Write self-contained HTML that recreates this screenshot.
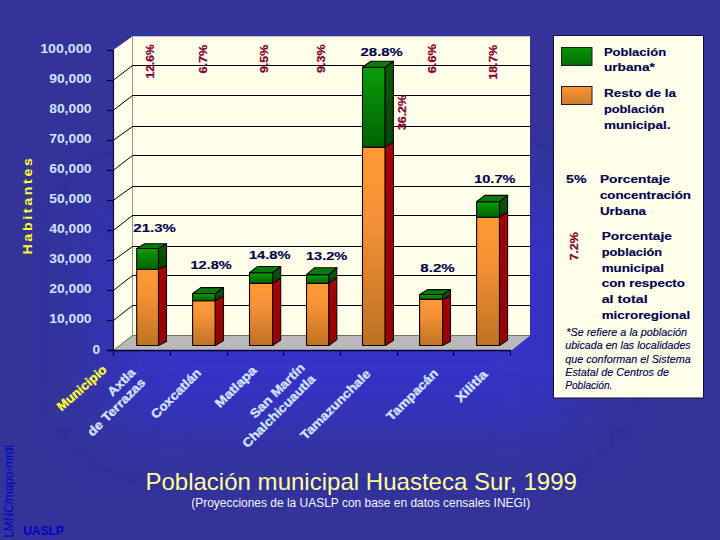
<!DOCTYPE html>
<html><head><meta charset="utf-8"><title>Población municipal Huasteca Sur, 1999</title>
<style>html,body{margin:0;padding:0;background:#333399;}body{width:720px;height:540px;overflow:hidden;font-family:"Liberation Sans", sans-serif;}</style>
</head><body>
<svg width="720" height="540" viewBox="0 0 720 540" style="display:block;font-family:'Liberation Sans',sans-serif">
<defs>
<linearGradient id="gO" x1="0" y1="0" x2="0" y2="1"><stop offset="0" stop-color="#ff9a34"/><stop offset="0.35" stop-color="#f59236"/><stop offset="1" stop-color="#bd7223"/></linearGradient>
<linearGradient id="gG" x1="0" y1="0" x2="0" y2="1"><stop offset="0" stop-color="#0a9c0a"/><stop offset="1" stop-color="#006400"/></linearGradient>
<linearGradient id="gGs" x1="0" y1="0" x2="0" y2="1"><stop offset="0" stop-color="#0b5a0b"/><stop offset="1" stop-color="#004600"/></linearGradient>
<linearGradient id="gR" x1="0" y1="0" x2="0" y2="1"><stop offset="0" stop-color="#a40408"/><stop offset="1" stop-color="#960000"/></linearGradient>
<linearGradient id="lgG" x1="0" y1="0" x2="0" y2="1"><stop offset="0" stop-color="#0a960a"/><stop offset="1" stop-color="#006a00"/></linearGradient>
<linearGradient id="lgO" x1="0" y1="0" x2="0" y2="1"><stop offset="0" stop-color="#ff9630"/><stop offset="1" stop-color="#cc7a2e"/></linearGradient>
<filter id="blur" filterUnits="userSpaceOnUse" x="-40" y="0" width="800" height="600"><feGaussianBlur stdDeviation="37 35"/></filter>
</defs>
<rect width="720" height="540" fill="#333399"/>
<rect x="105" y="198" width="472" height="227" fill="#3533c7" filter="url(#blur)"/>
<polygon points="113.5,50.0 132.5,36.5 530.0,36.5 530.0,335.5 511.0,350.5 113.5,350.5" fill="#dcdcd0"/>
<polygon points="113.5,50.0 132.5,36.5 132.5,335.5 113.5,350.5" fill="#ffffea"/>
<rect x="132.5" y="36.5" width="397.5" height="299.5" fill="#ffffea"/>
<polygon points="113.5,350.5 132.5,335.5 530.0,335.5 511.0,350.5" fill="#b9b9bc"/>
<line x1="132.5" y1="335.5" x2="530.0" y2="335.5" stroke="#74745e" stroke-width="1"/>
<line x1="132.5" y1="36.5" x2="132.5" y2="335.5" stroke="#96968a" stroke-width="1"/>
<line x1="113.5" y1="350.5" x2="132.5" y2="335.5" stroke="#5a5a4c" stroke-width="0.9"/>
<polyline points="113.5,320.4 132.5,305.5 530.0,305.5" fill="none" stroke="#000" stroke-width="1"/>
<polyline points="113.5,290.4 132.5,275.5 530.0,275.5" fill="none" stroke="#000" stroke-width="1"/>
<polyline points="113.5,260.4 132.5,246.5 530.0,246.5" fill="none" stroke="#000" stroke-width="1"/>
<polyline points="113.5,230.3 132.5,215.5 530.0,215.5" fill="none" stroke="#000" stroke-width="1"/>
<polyline points="113.5,200.2 132.5,186.5 530.0,186.5" fill="none" stroke="#000" stroke-width="1"/>
<polyline points="113.5,170.2 132.5,155.5 530.0,155.5" fill="none" stroke="#000" stroke-width="1"/>
<polyline points="113.5,140.2 132.5,126.5 530.0,126.5" fill="none" stroke="#000" stroke-width="1"/>
<polyline points="113.5,110.1 132.5,95.5 530.0,95.5" fill="none" stroke="#000" stroke-width="1"/>
<polyline points="113.5,80.1 132.5,65.5 530.0,65.5" fill="none" stroke="#000" stroke-width="1"/>
<line x1="113.5" y1="50.0" x2="113.5" y2="350.5" stroke="#0c0c48" stroke-width="1.2"/>
<line x1="107" y1="350.5" x2="113.5" y2="350.5" stroke="#00003a" stroke-width="1.2"/>
<line x1="107" y1="320.5" x2="113.5" y2="320.5" stroke="#00003a" stroke-width="1.2"/>
<line x1="107" y1="290.5" x2="113.5" y2="290.5" stroke="#00003a" stroke-width="1.2"/>
<line x1="107" y1="260.5" x2="113.5" y2="260.5" stroke="#00003a" stroke-width="1.2"/>
<line x1="107" y1="230.5" x2="113.5" y2="230.5" stroke="#00003a" stroke-width="1.2"/>
<line x1="107" y1="200.5" x2="113.5" y2="200.5" stroke="#00003a" stroke-width="1.2"/>
<line x1="107" y1="170.5" x2="113.5" y2="170.5" stroke="#00003a" stroke-width="1.2"/>
<line x1="107" y1="140.5" x2="113.5" y2="140.5" stroke="#00003a" stroke-width="1.2"/>
<line x1="107" y1="110.5" x2="113.5" y2="110.5" stroke="#00003a" stroke-width="1.2"/>
<line x1="107" y1="80.5" x2="113.5" y2="80.5" stroke="#00003a" stroke-width="1.2"/>
<line x1="107" y1="50.5" x2="113.5" y2="50.5" stroke="#00003a" stroke-width="1.2"/>
<line x1="107" y1="350.5" x2="511.0" y2="350.5" stroke="#00003a" stroke-width="1.4"/>
<line x1="113.5" y1="350.5" x2="113.5" y2="355.5" stroke="#00003a" stroke-width="1.2"/>
<line x1="170.5" y1="350.5" x2="170.5" y2="355.5" stroke="#00003a" stroke-width="1.2"/>
<line x1="227.5" y1="350.5" x2="227.5" y2="355.5" stroke="#00003a" stroke-width="1.2"/>
<line x1="283.5" y1="350.5" x2="283.5" y2="355.5" stroke="#00003a" stroke-width="1.2"/>
<line x1="340.5" y1="350.5" x2="340.5" y2="355.5" stroke="#00003a" stroke-width="1.2"/>
<line x1="397.5" y1="350.5" x2="397.5" y2="355.5" stroke="#00003a" stroke-width="1.2"/>
<line x1="453.5" y1="350.5" x2="453.5" y2="355.5" stroke="#00003a" stroke-width="1.2"/>
<line x1="510.5" y1="350.5" x2="510.5" y2="355.5" stroke="#00003a" stroke-width="1.2"/>
<rect x="136.7" y="269.2" width="21.8" height="76.3" fill="url(#gO)" stroke="#140000" stroke-width="1.1" stroke-linejoin="round"/>
<polygon points="158.5,269.2 166.5,265.2 166.5,341.5 158.5,345.5" fill="url(#gR)" stroke="#140000" stroke-width="1.1" stroke-linejoin="round"/>
<rect x="136.7" y="248.5" width="21.8" height="20.7" fill="url(#gG)" stroke="#140000" stroke-width="1.1" stroke-linejoin="round"/>
<polygon points="158.5,248.5 166.5,243.8 166.5,265.2 158.5,269.2" fill="url(#gGs)" stroke="#140000" stroke-width="1.1" stroke-linejoin="round"/>
<polygon points="136.7,248.5 144.7,243.8 166.5,243.8 158.5,248.5" fill="#0a7a0a" stroke="#140000" stroke-width="1.1" stroke-linejoin="round"/>
<rect x="192.6" y="300.7" width="22.7" height="44.8" fill="url(#gO)" stroke="#140000" stroke-width="1.1" stroke-linejoin="round"/>
<polygon points="215.3,300.7 223.5,295.7 223.5,340.5 215.3,345.5" fill="url(#gR)" stroke="#140000" stroke-width="1.1" stroke-linejoin="round"/>
<rect x="192.6" y="293.5" width="22.7" height="7.2" fill="url(#gG)" stroke="#140000" stroke-width="1.1" stroke-linejoin="round"/>
<polygon points="215.3,293.5 223.5,287.6 223.5,295.7 215.3,300.7" fill="url(#gGs)" stroke="#140000" stroke-width="1.1" stroke-linejoin="round"/>
<polygon points="192.6,293.5 200.8,287.6 223.5,287.6 215.3,293.5" fill="#0a7a0a" stroke="#140000" stroke-width="1.1" stroke-linejoin="round"/>
<rect x="249.5" y="283.4" width="23.1" height="62.1" fill="url(#gO)" stroke="#140000" stroke-width="1.1" stroke-linejoin="round"/>
<polygon points="272.6,283.4 280.7,278.0 280.7,340.1 272.6,345.5" fill="url(#gR)" stroke="#140000" stroke-width="1.1" stroke-linejoin="round"/>
<rect x="249.5" y="272.8" width="23.1" height="10.6" fill="url(#gG)" stroke="#140000" stroke-width="1.1" stroke-linejoin="round"/>
<polygon points="272.6,272.8 280.7,266.5 280.7,278.0 272.6,283.4" fill="url(#gGs)" stroke="#140000" stroke-width="1.1" stroke-linejoin="round"/>
<polygon points="249.5,272.8 257.6,266.5 280.7,266.5 272.6,272.8" fill="#0a7a0a" stroke="#140000" stroke-width="1.1" stroke-linejoin="round"/>
<rect x="306.5" y="283.4" width="22.3" height="62.1" fill="url(#gO)" stroke="#140000" stroke-width="1.1" stroke-linejoin="round"/>
<polygon points="328.8,283.4 336.8,277.5 336.8,339.6 328.8,345.5" fill="url(#gR)" stroke="#140000" stroke-width="1.1" stroke-linejoin="round"/>
<rect x="306.5" y="274.6" width="22.3" height="8.8" fill="url(#gG)" stroke="#140000" stroke-width="1.1" stroke-linejoin="round"/>
<polygon points="328.8,274.6 336.8,267.7 336.8,277.5 328.8,283.4" fill="url(#gGs)" stroke="#140000" stroke-width="1.1" stroke-linejoin="round"/>
<polygon points="306.5,274.6 314.5,267.7 336.8,267.7 328.8,274.6" fill="#0a7a0a" stroke="#140000" stroke-width="1.1" stroke-linejoin="round"/>
<rect x="362.5" y="147.1" width="22.7" height="198.4" fill="url(#gO)" stroke="#140000" stroke-width="1.1" stroke-linejoin="round"/>
<polygon points="385.2,147.1 393.4,142.1 393.4,340.5 385.2,345.5" fill="url(#gR)" stroke="#140000" stroke-width="1.1" stroke-linejoin="round"/>
<rect x="362.5" y="67.2" width="22.7" height="79.9" fill="url(#gG)" stroke="#140000" stroke-width="1.1" stroke-linejoin="round"/>
<polygon points="385.2,67.2 393.4,61.3 393.4,142.1 385.2,147.1" fill="url(#gGs)" stroke="#140000" stroke-width="1.1" stroke-linejoin="round"/>
<polygon points="362.5,67.2 370.7,61.3 393.4,61.3 385.2,67.2" fill="#0a7a0a" stroke="#140000" stroke-width="1.1" stroke-linejoin="round"/>
<rect x="419.6" y="299.4" width="23.0" height="46.1" fill="url(#gO)" stroke="#140000" stroke-width="1.1" stroke-linejoin="round"/>
<polygon points="442.6,299.4 450.5,295.2 450.5,341.3 442.6,345.5" fill="url(#gR)" stroke="#140000" stroke-width="1.1" stroke-linejoin="round"/>
<rect x="419.6" y="294.5" width="23.0" height="4.9" fill="url(#gG)" stroke="#140000" stroke-width="1.1" stroke-linejoin="round"/>
<polygon points="442.6,294.5 450.5,289.6 450.5,295.2 442.6,299.4" fill="url(#gGs)" stroke="#140000" stroke-width="1.1" stroke-linejoin="round"/>
<polygon points="419.6,294.5 427.5,289.6 450.5,289.6 442.6,294.5" fill="#0a7a0a" stroke="#140000" stroke-width="1.1" stroke-linejoin="round"/>
<rect x="476.6" y="217.2" width="22.9" height="128.3" fill="url(#gO)" stroke="#140000" stroke-width="1.1" stroke-linejoin="round"/>
<polygon points="499.5,217.2 507.6,211.8 507.6,340.1 499.5,345.5" fill="url(#gR)" stroke="#140000" stroke-width="1.1" stroke-linejoin="round"/>
<rect x="476.6" y="201.7" width="22.9" height="15.5" fill="url(#gG)" stroke="#140000" stroke-width="1.1" stroke-linejoin="round"/>
<polygon points="499.5,201.7 507.6,195.4 507.6,211.8 499.5,217.2" fill="url(#gGs)" stroke="#140000" stroke-width="1.1" stroke-linejoin="round"/>
<polygon points="476.6,201.7 484.7,195.4 507.6,195.4 499.5,201.7" fill="#0a7a0a" stroke="#140000" stroke-width="1.1" stroke-linejoin="round"/>
<text x="92.6" y="354.0" font-size="12.2" font-weight="bold" fill="#cfe3ff" textLength="7.6" lengthAdjust="spacingAndGlyphs">0</text>
<text x="49.2" y="323.4" font-size="12.2" font-weight="bold" fill="#cfe3ff" textLength="42.4" lengthAdjust="spacingAndGlyphs">10,000</text>
<text x="49.2" y="293.4" font-size="12.2" font-weight="bold" fill="#cfe3ff" textLength="42.4" lengthAdjust="spacingAndGlyphs">20,000</text>
<text x="49.2" y="263.4" font-size="12.2" font-weight="bold" fill="#cfe3ff" textLength="42.4" lengthAdjust="spacingAndGlyphs">30,000</text>
<text x="49.2" y="233.3" font-size="12.2" font-weight="bold" fill="#cfe3ff" textLength="42.4" lengthAdjust="spacingAndGlyphs">40,000</text>
<text x="49.2" y="203.2" font-size="12.2" font-weight="bold" fill="#cfe3ff" textLength="42.4" lengthAdjust="spacingAndGlyphs">50,000</text>
<text x="49.2" y="173.2" font-size="12.2" font-weight="bold" fill="#cfe3ff" textLength="42.4" lengthAdjust="spacingAndGlyphs">60,000</text>
<text x="49.2" y="143.2" font-size="12.2" font-weight="bold" fill="#cfe3ff" textLength="42.4" lengthAdjust="spacingAndGlyphs">70,000</text>
<text x="49.2" y="113.1" font-size="12.2" font-weight="bold" fill="#cfe3ff" textLength="42.4" lengthAdjust="spacingAndGlyphs">80,000</text>
<text x="49.2" y="83.1" font-size="12.2" font-weight="bold" fill="#cfe3ff" textLength="42.4" lengthAdjust="spacingAndGlyphs">90,000</text>
<text x="40.2" y="53.0" font-size="12.2" font-weight="bold" fill="#cfe3ff" textLength="51.4" lengthAdjust="spacingAndGlyphs">100,000</text>
<text x="32.4" y="254.5" font-size="13" font-weight="bold" fill="#ffff33" textLength="99" lengthAdjust="spacingAndGlyphs" transform="rotate(-90 32.4 254.5)" style="letter-spacing:2.5px">Habitantes</text>
<text x="133.3" y="232.2" font-size="11.8" font-weight="bold" fill="#00004e" textLength="42.5" lengthAdjust="spacingAndGlyphs" style="stroke:#00004e;stroke-width:0.15px">21.3%</text>
<text x="190.5" y="268.8" font-size="11.8" font-weight="bold" fill="#00004e" textLength="41.2" lengthAdjust="spacingAndGlyphs" style="stroke:#00004e;stroke-width:0.15px">12.8%</text>
<text x="248.9" y="259.3" font-size="11.8" font-weight="bold" fill="#00004e" textLength="41.6" lengthAdjust="spacingAndGlyphs" style="stroke:#00004e;stroke-width:0.15px">14.8%</text>
<text x="305.9" y="260.1" font-size="11.8" font-weight="bold" fill="#00004e" textLength="41.5" lengthAdjust="spacingAndGlyphs" style="stroke:#00004e;stroke-width:0.15px">13.2%</text>
<text x="360.59999999999997" y="55.5" font-size="11.8" font-weight="bold" fill="#00004e" textLength="42.2" lengthAdjust="spacingAndGlyphs" style="stroke:#00004e;stroke-width:0.15px">28.8%</text>
<text x="420.29999999999995" y="271.9" font-size="11.8" font-weight="bold" fill="#00004e" textLength="34.400000000000006" lengthAdjust="spacingAndGlyphs" style="stroke:#00004e;stroke-width:0.15px">8.2%</text>
<text x="474.2" y="183.2" font-size="11.8" font-weight="bold" fill="#00004e" textLength="41.2" lengthAdjust="spacingAndGlyphs" style="stroke:#00004e;stroke-width:0.15px">10.7%</text>
<rect x="553.5" y="35.5" width="150" height="362.5" fill="#ffffea" stroke="#10103a" stroke-width="1"/>
<rect x="561.5" y="47.5" width="30.5" height="18" fill="url(#lgG)" stroke="#202020" stroke-width="1"/>
<rect x="561.5" y="86.5" width="30.5" height="18" fill="url(#lgO)" stroke="#202020" stroke-width="1"/>
<text x="153.8" y="78.5" font-size="10" font-weight="bold" fill="#850030" textLength="34.1" lengthAdjust="spacingAndGlyphs" transform="rotate(-90 153.8 78.5)" style="stroke:#850030;stroke-width:0.25px">12.6%</text>
<text x="207.0" y="73.6" font-size="10" font-weight="bold" fill="#850030" textLength="28.9" lengthAdjust="spacingAndGlyphs" transform="rotate(-90 207.0 73.6)" style="stroke:#850030;stroke-width:0.25px">6.7%</text>
<text x="268.3" y="73.1" font-size="10" font-weight="bold" fill="#850030" textLength="28.4" lengthAdjust="spacingAndGlyphs" transform="rotate(-90 268.3 73.1)" style="stroke:#850030;stroke-width:0.25px">9.5%</text>
<text x="324.6" y="72.89999999999999" font-size="10" font-weight="bold" fill="#850030" textLength="28.7" lengthAdjust="spacingAndGlyphs" transform="rotate(-90 324.6 72.89999999999999)" style="stroke:#850030;stroke-width:0.25px">9.3%</text>
<text x="435.8" y="73.19999999999999" font-size="10" font-weight="bold" fill="#850030" textLength="29.0" lengthAdjust="spacingAndGlyphs" transform="rotate(-90 435.8 73.19999999999999)" style="stroke:#850030;stroke-width:0.25px">6.6%</text>
<text x="496.6" y="79.39999999999999" font-size="10" font-weight="bold" fill="#850030" textLength="34.4" lengthAdjust="spacingAndGlyphs" transform="rotate(-90 496.6 79.39999999999999)" style="stroke:#850030;stroke-width:0.25px">18.7%</text>
<text x="405.6" y="130.1" font-size="10" font-weight="bold" fill="#850030" textLength="35.1" lengthAdjust="spacingAndGlyphs" transform="rotate(-90 405.6 130.1)" style="stroke:#850030;stroke-width:0.25px">36.2%</text>
<text x="578.3" y="260.6" font-size="10" font-weight="bold" fill="#850030" textLength="28.5" lengthAdjust="spacingAndGlyphs" transform="rotate(-90 578.3 260.6)" style="stroke:#850030;stroke-width:0.25px">7.2%</text>
<text x="603.9" y="55.5" font-size="11.8" font-weight="bold" fill="#00004e" textLength="62.2" lengthAdjust="spacingAndGlyphs" style="stroke:#00004e;stroke-width:0.15px">Población</text>
<text x="603.9" y="71.1" font-size="11.8" font-weight="bold" fill="#00004e" textLength="51" lengthAdjust="spacingAndGlyphs" style="stroke:#00004e;stroke-width:0.15px">urbana*</text>
<text x="603.9" y="97.1" font-size="11.8" font-weight="bold" fill="#00004e" textLength="72.2" lengthAdjust="spacingAndGlyphs" style="stroke:#00004e;stroke-width:0.15px">Resto de la</text>
<text x="603.9" y="112.8" font-size="11.8" font-weight="bold" fill="#00004e" textLength="60.5" lengthAdjust="spacingAndGlyphs" style="stroke:#00004e;stroke-width:0.15px">población</text>
<text x="603.9" y="128.8" font-size="11.8" font-weight="bold" fill="#00004e" textLength="66.7" lengthAdjust="spacingAndGlyphs" style="stroke:#00004e;stroke-width:0.15px">municipal.</text>
<text x="566.1" y="183.4" font-size="11.8" font-weight="bold" fill="#00004e" textLength="20.5" lengthAdjust="spacingAndGlyphs" style="stroke:#00004e;stroke-width:0.15px">5%</text>
<text x="599.9" y="183.4" font-size="11.8" font-weight="bold" fill="#00004e" textLength="70.2" lengthAdjust="spacingAndGlyphs" style="stroke:#00004e;stroke-width:0.15px">Porcentaje</text>
<text x="599.9" y="199.4" font-size="11.8" font-weight="bold" fill="#00004e" textLength="91.1" lengthAdjust="spacingAndGlyphs" style="stroke:#00004e;stroke-width:0.15px">concentración</text>
<text x="599.9" y="214.9" font-size="11.8" font-weight="bold" fill="#00004e" textLength="46.2" lengthAdjust="spacingAndGlyphs" style="stroke:#00004e;stroke-width:0.15px">Urbana</text>
<text x="601.7" y="240.1" font-size="11.8" font-weight="bold" fill="#00004e" textLength="70.2" lengthAdjust="spacingAndGlyphs" style="stroke:#00004e;stroke-width:0.15px">Porcentaje</text>
<text x="601.7" y="256.1" font-size="11.8" font-weight="bold" fill="#00004e" textLength="60.5" lengthAdjust="spacingAndGlyphs" style="stroke:#00004e;stroke-width:0.15px">población</text>
<text x="601.7" y="272.1" font-size="11.8" font-weight="bold" fill="#00004e" textLength="62.3" lengthAdjust="spacingAndGlyphs" style="stroke:#00004e;stroke-width:0.15px">municipal</text>
<text x="601.7" y="287.3" font-size="11.8" font-weight="bold" fill="#00004e" textLength="83.3" lengthAdjust="spacingAndGlyphs" style="stroke:#00004e;stroke-width:0.15px">con respecto</text>
<text x="601.7" y="303.1" font-size="11.8" font-weight="bold" fill="#00004e" textLength="46" lengthAdjust="spacingAndGlyphs" style="stroke:#00004e;stroke-width:0.15px">al total</text>
<text x="601.7" y="319.0" font-size="11.8" font-weight="bold" fill="#00004e" textLength="88.5" lengthAdjust="spacingAndGlyphs" style="stroke:#00004e;stroke-width:0.15px">microregional</text>
<text x="566.3" y="335.7" font-size="10" font-weight="normal" fill="#00004e" textLength="120.8" lengthAdjust="spacingAndGlyphs" style="font-style:italic;stroke:#00004e;stroke-width:0.12px">*Se refiere a la población</text>
<text x="565.2" y="349.40000000000003" font-size="10" font-weight="normal" fill="#00004e" textLength="125.5" lengthAdjust="spacingAndGlyphs" style="font-style:italic;stroke:#00004e;stroke-width:0.12px">ubicada en las localidades</text>
<text x="565.2" y="362.90000000000003" font-size="10" font-weight="normal" fill="#00004e" textLength="125.5" lengthAdjust="spacingAndGlyphs" style="font-style:italic;stroke:#00004e;stroke-width:0.12px">que conforman el Sistema</text>
<text x="565.2" y="375.7" font-size="10" font-weight="normal" fill="#00004e" textLength="103.8" lengthAdjust="spacingAndGlyphs" style="font-style:italic;stroke:#00004e;stroke-width:0.12px">Estatal de Centros de</text>
<text x="565.2" y="388.6" font-size="10" font-weight="normal" fill="#00004e" textLength="47.2" lengthAdjust="spacingAndGlyphs" style="font-style:italic;stroke:#00004e;stroke-width:0.12px">Población.</text>
<text x="61.6" y="411.6" font-size="12.5" font-weight="bold" fill="#ffff33" textLength="61.5" lengthAdjust="spacingAndGlyphs" transform="rotate(-41.5 61.6 411.6)" style="stroke:#ffff33;stroke-width:0.35px">Municipio</text>
<text x="112.5" y="397" font-size="12.5" font-weight="bold" fill="#cfe3ff" textLength="33.5" lengthAdjust="spacingAndGlyphs" transform="rotate(-45 112.5 397)" style="stroke:#cfe3ff;stroke-width:0.35px">Axtla</text>
<text x="92.5" y="437" font-size="12.5" font-weight="bold" fill="#cfe3ff" textLength="76" lengthAdjust="spacingAndGlyphs" transform="rotate(-45 92.5 437)" style="stroke:#cfe3ff;stroke-width:0.35px">de Terrazas</text>
<text x="156" y="419.5" font-size="12.5" font-weight="bold" fill="#cfe3ff" textLength="65" lengthAdjust="spacingAndGlyphs" transform="rotate(-45 156 419.5)" style="stroke:#cfe3ff;stroke-width:0.35px">Coxcatlán</text>
<text x="220" y="408.5" font-size="12.5" font-weight="bold" fill="#cfe3ff" textLength="53" lengthAdjust="spacingAndGlyphs" transform="rotate(-45 220 408.5)" style="stroke:#cfe3ff;stroke-width:0.35px">Matlapa</text>
<text x="255" y="419" font-size="12.5" font-weight="bold" fill="#cfe3ff" textLength="71.5" lengthAdjust="spacingAndGlyphs" transform="rotate(-45 255 419)" style="stroke:#cfe3ff;stroke-width:0.35px">San Martín</text>
<text x="247.5" y="448.5" font-size="12.5" font-weight="bold" fill="#cfe3ff" textLength="97" lengthAdjust="spacingAndGlyphs" transform="rotate(-45 247.5 448.5)" style="stroke:#cfe3ff;stroke-width:0.35px">Chalchicuautla</text>
<text x="305.5" y="440.5" font-size="12.5" font-weight="bold" fill="#cfe3ff" textLength="93" lengthAdjust="spacingAndGlyphs" transform="rotate(-45 305.5 440.5)" style="stroke:#cfe3ff;stroke-width:0.35px">Tamazunchale</text>
<text x="391.5" y="421.5" font-size="12.5" font-weight="bold" fill="#cfe3ff" textLength="67" lengthAdjust="spacingAndGlyphs" transform="rotate(-45 391.5 421.5)" style="stroke:#cfe3ff;stroke-width:0.35px">Tampacán</text>
<text x="460.5" y="403" font-size="12.5" font-weight="bold" fill="#cfe3ff" textLength="39.5" lengthAdjust="spacingAndGlyphs" transform="rotate(-45 460.5 403)" style="stroke:#cfe3ff;stroke-width:0.35px">Xilitla</text>
<text x="145.4" y="489.6" font-size="23.4" font-weight="normal" fill="#ffff99" textLength="431.5" lengthAdjust="spacingAndGlyphs">Población municipal Huasteca Sur, 1999</text>
<text x="191.2" y="507.2" font-size="12" font-weight="normal" fill="#f4f4ff" textLength="339" lengthAdjust="spacingAndGlyphs">(Proyecciones de la UASLP con base en datos censales INEGI)</text>
<text x="23.2" y="534.6" font-size="12" font-weight="bold" fill="#0000cc">UASLP</text>
<text x="13" y="537.6" font-size="12" font-weight="normal" fill="#0000cc" textLength="92.6" lengthAdjust="spacingAndGlyphs" transform="rotate(-90 13 537.6)">LMNC/mapo-mrdl</text>
</svg>
</body></html>
